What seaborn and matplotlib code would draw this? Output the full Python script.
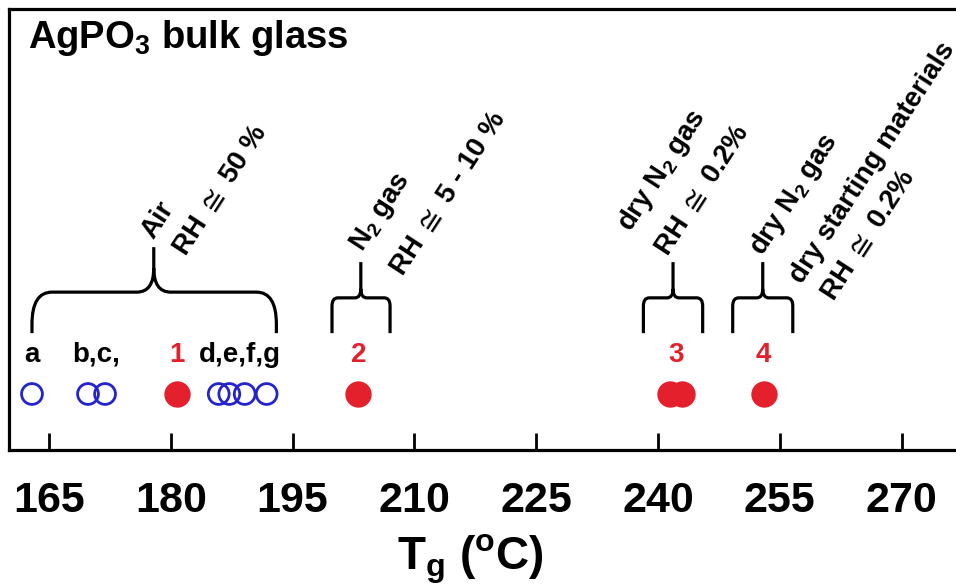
import numpy as np
import pandas as pd
import matplotlib
matplotlib.use("Agg")
import matplotlib.pyplot as plt
from matplotlib.path import Path
from matplotlib.patches import PathPatch
import seaborn as sns

# ---- data -------------------------------------------------------------
# Tg of AgPO3 bulk glasses reported in the literature (open symbols)
lit_samples = ["a", "b", "c", "d", "e", "f", "g"]
lit_tg = [162.9, 169.8, 171.9, 185.9, 187.2, 189.1, 191.8]

# Tg of the glasses prepared here (filled symbols)
work_samples = ["1", "2", "3", "3", "4"]
work_tg = [180.7, 203.1, 241.5, 242.9, 253.0]

# groups of literature samples labelled together
lit_groups = [["a"], ["b", "c"], ["d", "e", "f", "g"]]
lit_group_labels = ["a", "b,c,", "d,e,f,g"]

tick_values = [165, 180, 195, 210, 225, 240, 255, 270]

# ---- style ------------------------------------------------------------
sns.set_theme(style="white")
plt.rcParams["font.family"] = ["Liberation Sans", "DejaVu Sans"]
plt.rcParams["font.weight"] = "bold"
plt.rcParams["mathtext.fontset"] = "custom"
plt.rcParams["mathtext.rm"] = "Liberation Sans:bold"
plt.rcParams["mathtext.it"] = "Liberation Sans:bold"
plt.rcParams["mathtext.bf"] = "Liberation Sans:bold"

RED = "#E3202C"
BLUE = "#2323D0"
ROW = 0.127          # vertical position of the symbol row (axes fraction)
LABEL_Y = 0.200      # baseline of the sample labels

fig = plt.figure(figsize=(9.56, 5.87), dpi=100)
ax = fig.add_axes([9 / 956, 137 / 587, 947 / 956, 441 / 587])

lit_df = pd.DataFrame({"Tg": lit_tg, "row": ROW, "sample": lit_samples})
work_df = pd.DataFrame({"Tg": work_tg, "row": ROW, "sample": work_samples})

sns.scatterplot(data=lit_df, x="Tg", y="row", ax=ax, s=225, marker="o",
                fc="none", ec=BLUE, linewidth=2.0, legend=False, zorder=3)
sns.scatterplot(data=work_df, x="Tg", y="row", ax=ax, s=360, marker="o",
                color=RED, linewidth=0, legend=False, zorder=3)

ax.set_xlim(160.07, 276.7)
ax.set_ylim(0, 1)
ax.set_xlabel("")
ax.set_ylabel("")
ax.set_yticks([])
ax.set_xticks(tick_values)
ax.set_xticklabels([str(v) for v in tick_values])
ax.tick_params(axis="x", bottom=True, direction="in", length=12, width=2.0,
               pad=22, labelsize=31, color="black", labelcolor="black")

for side in ("left", "bottom", "top"):
    ax.spines[side].set_visible(True)
    ax.spines[side].set_color("black")
    ax.spines[side].set_linewidth(2.3)
ax.spines["right"].set_visible(False)

# ---- sample labels -----------------------------------------------------
tg_of = dict(zip(lit_samples, lit_tg))
for members, text in zip(lit_groups, lit_group_labels):
    xc = np.mean([tg_of[m] for m in members])
    ax.text(xc, LABEL_Y, text, ha="center", va="baseline", fontsize=20,
            fontweight="bold", color="black")

for s in dict.fromkeys(work_samples):
    xs = [t for t, n in zip(work_tg, work_samples) if n == s]
    ax.text(np.mean(xs), LABEL_Y, s, ha="center", va="baseline",
            fontsize=20, fontweight="bold", color=RED)

# ---- braces -------------------------------------------------------------
PX_X = 8.12   # pixels per degree
PX_Y = 441.0  # pixels per axes height


def brace(x_left, x_right, x_mid, y_bot, y_bar, y_tip, corner, notch):
    cx, cy = corner[0] / PX_X, corner[1] / PX_Y
    nx, ny = notch[0] / PX_X, notch[1] / PX_Y
    verts = [
        (x_left, y_bot), (x_left, y_bar - cy),
        (x_left, y_bar), (x_left + cx, y_bar),
        (x_mid - nx, y_bar),
        (x_mid, y_bar), (x_mid, y_bar + ny),
        (x_mid, y_tip),
        (x_mid, y_bar + ny),
        (x_mid, y_bar), (x_mid + nx, y_bar),
        (x_right - cx, y_bar),
        (x_right, y_bar), (x_right, y_bar - cy),
        (x_right, y_bot),
    ]
    codes = [
        Path.MOVETO, Path.LINETO,
        Path.CURVE3, Path.CURVE3,
        Path.LINETO,
        Path.CURVE3, Path.CURVE3,
        Path.LINETO,
        Path.MOVETO,
        Path.CURVE3, Path.CURVE3,
        Path.LINETO,
        Path.CURVE3, Path.CURVE3,
        Path.LINETO,
    ]
    patch = PathPatch(Path(verts, codes), fc="none", ec="black", lw=2.3,
                      capstyle="butt", joinstyle="round")
    ax.add_patch(patch)


BR_BOT = 0.265
brace(162.9, 193.0, 177.9, BR_BOT, 0.358, 0.460, (20, 32), (17, 24))
brace(199.85, 207.0, 203.4, BR_BOT, 0.345, 0.426, (6, 8), (6, 9))
brace(238.2, 245.5, 241.85, BR_BOT, 0.345, 0.426, (6, 8), (6, 9))
brace(249.2, 256.6, 252.9, BR_BOT, 0.345, 0.426, (6, 8), (6, 9))

# ---- preparation conditions --------------------------------------------
ANGLE = 57
cond_lines = [
    (177.81, 0.476, "Air"),
    (181.75, 0.438, r"RH $\cong$ 50 %"),
    (203.55, 0.447, r"N$_2$ gas"),
    (208.47, 0.392, r"RH $\cong$ 5 - 10 %"),
    (236.55, 0.492, r"dry N$_2$ gas"),
    (241.11, 0.438, r"RH $\cong$ 0.2%"),
    (252.81, 0.438, r"dry N$_2$ gas"),
    (257.73, 0.374, "dry starting materials"),
    (261.55, 0.336, r"RH $\cong$ 0.2%"),
]
for x, y, text in cond_lines:
    ax.text(x, y, text, rotation=ANGLE, rotation_mode="anchor",
            ha="left", va="baseline", fontsize=20, fontweight="bold",
            color="black", clip_on=False)

# ---- titles --------------------------------------------------------------
fig.text(28 / 956, 1 - 48 / 587, r"AgPO$_3$ bulk glass", ha="left",
         va="baseline", fontsize=27.5, fontweight="bold", color="black")
fig.text(470 / 956, 1 - 569 / 587, r"$\mathrm{T_g}$ ($^{\mathrm{o}}$C)",
         ha="center", va="baseline", fontsize=33, fontweight="bold",
         color="black")

fig.savefig("out.png", dpi=100)
